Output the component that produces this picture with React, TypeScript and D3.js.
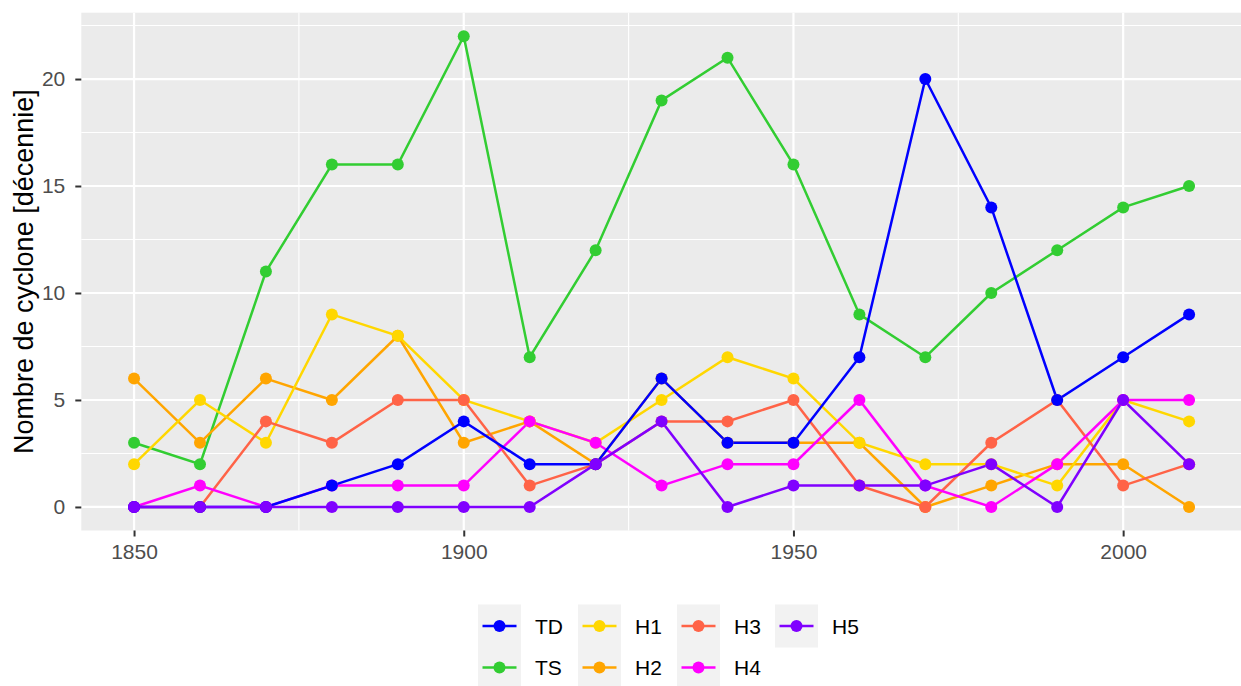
import React, { useEffect, useRef } from "react";
import * as d3 from "d3";

// decades
const years = [1850, 1860, 1870, 1880, 1890, 1900, 1910, 1920, 1930, 1940, 1950, 1960, 1970, 1980, 1990, 2000, 2010];

// cyclone counts per decade
const TD = [0, 0, 0, 1, 2, 4, 2, 2, 6, 3, 3, 7, 20, 14, 5, 7, 9];
const TS = [3, 2, 11, 16, 16, 22, 7, 12, 19, 21, 16, 9, 7, 10, 12, 14, 15];
const H1 = [2, 5, 3, 9, 8, 5, 4, 3, 5, 7, 6, 3, 2, 2, 1, 5, 4];
const H2 = [6, 3, 6, 5, 8, 3, 4, 2, 6, 3, 3, 3, 0, 1, 2, 2, 0];
const H3 = [0, 0, 4, 3, 5, 5, 1, 2, 4, 4, 5, 1, 0, 3, 5, 1, 2];
const H4 = [0, 1, 0, 1, 1, 1, 4, 3, 1, 2, 2, 5, 1, 0, 2, 5, 5];
const H5 = [0, 0, 0, 0, 0, 0, 0, 2, 4, 0, 1, 1, 1, 2, 0, 5, 2];

const xTicks = [1850, 1900, 1950, 2000];
const yTicks = [0, 5, 10, 15, 20];

const series = [
  { name: "TD", values: TD, color: "#0000ff" },
  { name: "TS", values: TS, color: "#32cd32" },
  { name: "H1", values: H1, color: "#ffd700" },
  { name: "H2", values: H2, color: "#ffa500" },
  { name: "H3", values: H3, color: "#ff6347" },
  { name: "H4", values: H4, color: "#ff00ff" },
  { name: "H5", values: H5, color: "#8000ff" },
];

// order in which the series are stacked on the picture (bottom first)
const drawOrder = ["TS", "H2", "H1", "H3", "H4", "TD", "H5"];

export default function App() {
  const ref = useRef<SVGSVGElement>(null);

  useEffect(() => {
    const w = 1241;
    const h = 686;
    const left = 81.3;
    const top = 12.7;
    const bottom = 530.5;
    const font = "'Liberation Sans', Arial, Helvetica, sans-serif";
    const lw = 2.5;
    const pr = 6;

    const svg = d3.select(ref.current);
    svg.selectAll("*").remove();
    svg.attr("width", w).attr("height", h);

    // ggplot style 5% expansion
    const xMin = d3.min(years)!;
    const xMax = d3.max(years)!;
    const xPad = (xMax - xMin) * 0.05;
    const xScale = d3
      .scaleLinear()
      .domain([xMin - xPad, xMax + xPad])
      .range([left, left + (xMax - xMin + 2 * xPad) * 6.594]);

    const yMax = d3.max(series, (s) => d3.max(s.values)!)!;
    const yPad = yMax * 0.05;
    const yScale = d3
      .scaleLinear()
      .domain([-yPad, yMax + yPad])
      .range([bottom, top]);

    const right = xScale.range()[1];

    // panel
    svg
      .append("rect")
      .attr("x", left)
      .attr("y", top)
      .attr("width", right - left)
      .attr("height", bottom - top)
      .attr("fill", "#ebebeb");

    const grid = svg.append("g");
    const minorX = d3.range(1825, 2051, 50);
    const minorY = d3.range(2.5, 25, 5);
    grid
      .selectAll(".mx")
      .data(minorX.filter((d) => xScale(d) > left && xScale(d) < right))
      .join("line")
      .attr("x1", (d) => xScale(d))
      .attr("x2", (d) => xScale(d))
      .attr("y1", top)
      .attr("y2", bottom)
      .attr("stroke", "#fff")
      .attr("stroke-width", 1.1);
    grid
      .selectAll(".my")
      .data(minorY.filter((d) => yScale(d) > top))
      .join("line")
      .attr("x1", left)
      .attr("x2", right)
      .attr("y1", (d) => yScale(d))
      .attr("y2", (d) => yScale(d))
      .attr("stroke", "#fff")
      .attr("stroke-width", 1.1);
    grid
      .selectAll(".Mx")
      .data(xTicks)
      .join("line")
      .attr("x1", (d) => xScale(d))
      .attr("x2", (d) => xScale(d))
      .attr("y1", top)
      .attr("y2", bottom)
      .attr("stroke", "#fff")
      .attr("stroke-width", 2.2);
    grid
      .selectAll(".My")
      .data(yTicks)
      .join("line")
      .attr("x1", left)
      .attr("x2", right)
      .attr("y1", (d) => yScale(d))
      .attr("y2", (d) => yScale(d))
      .attr("stroke", "#fff")
      .attr("stroke-width", 2.2);

    // axes
    const xAxis = d3.axisBottom(xScale).tickValues(xTicks).tickFormat(d3.format("d")).tickSize(6).tickPadding(6);
    const gx = svg
      .append("g")
      .attr("transform", "translate(0," + bottom + ")")
      .call(xAxis);
    gx.select(".domain").remove();
    gx.selectAll("line").attr("stroke", "#333").attr("stroke-width", 2);
    gx.selectAll("text")
      .attr("fill", "#4d4d4d")
      .attr("font-family", font)
      .attr("font-size", 21)
      .attr("dy", "0.78em");

    const yAxis = d3.axisLeft(yScale).tickValues(yTicks).tickSize(6).tickPadding(10);
    const gy = svg
      .append("g")
      .attr("transform", "translate(" + left + ",0)")
      .call(yAxis);
    gy.select(".domain").remove();
    gy.selectAll("line").attr("stroke", "#333").attr("stroke-width", 2);
    gy.selectAll("text")
      .attr("fill", "#4d4d4d")
      .attr("font-family", font)
      .attr("font-size", 21);

    // y title
    svg
      .append("text")
      .attr("transform", "translate(33," + (top + bottom) / 2 + ") rotate(-90)")
      .attr("text-anchor", "middle")
      .attr("font-family", font)
      .attr("font-size", 27)
      .attr("fill", "#000")
      .text("Nombre de cyclone [décennie]");

    // lines then points
    const line = d3
      .line<number>()
      .x((d, i) => xScale(years[i]))
      .y((d) => yScale(d));

    const ordered = drawOrder.map((n) => series.find((s) => s.name === n)!);
    const plot = svg.append("g");
    ordered.forEach((s) => {
      plot
        .append("path")
        .attr("d", line(s.values))
        .attr("fill", "none")
        .attr("stroke", s.color)
        .attr("stroke-width", lw);
    });
    ordered.forEach((s) => {
      plot
        .append("g")
        .selectAll("circle")
        .data(s.values)
        .join("circle")
        .attr("cx", (d, i) => xScale(years[i]))
        .attr("cy", (d) => yScale(d))
        .attr("r", pr)
        .attr("fill", s.color);
    });

    // legend: 2 rows, filled by column
    const colX = [478, 578, 677, 775];
    const rowY = [604.5, 646];
    const key = 43;
    const lg = svg.append("g");
    series.forEach((s, i) => {
      const x = colX[Math.floor(i / 2)];
      const y = rowY[i % 2];
      const g = lg.append("g").attr("transform", "translate(" + x + "," + y + ")");
      g.append("rect").attr("width", key).attr("height", key).attr("fill", "#f2f2f2");
      g.append("line")
        .attr("x1", 4.5)
        .attr("x2", key - 4.5)
        .attr("y1", key / 2)
        .attr("y2", key / 2)
        .attr("stroke", s.color)
        .attr("stroke-width", lw);
      g.append("circle").attr("cx", key / 2).attr("cy", key / 2).attr("r", pr).attr("fill", s.color);
      g.append("text")
        .attr("x", key + 14)
        .attr("y", key / 2)
        .attr("dy", "0.36em")
        .attr("font-family", font)
        .attr("font-size", 21)
        .attr("fill", "#000")
        .text(s.name);
    });
  }, []);

  return (
    <svg
      ref={ref}
      style={{ position: "absolute", left: 0, top: 0, display: "block", background: "#fff" }}
    />
  );
}
